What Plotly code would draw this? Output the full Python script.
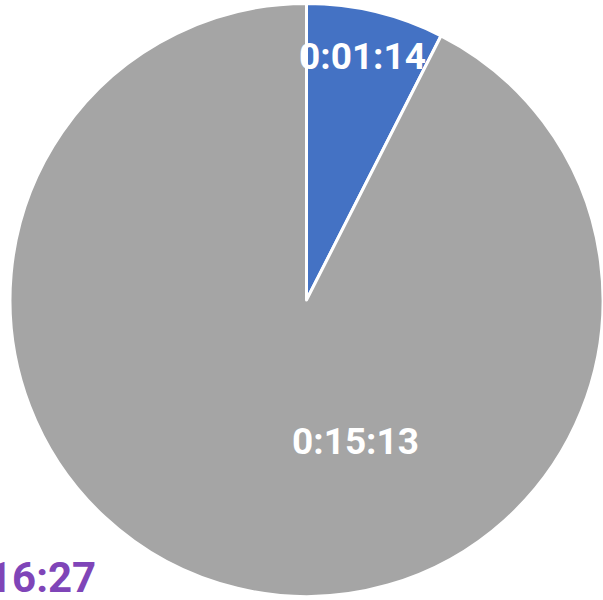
import plotly.graph_objects as go

labels = ["Segment A", "Segment B"]
seconds = [74, 913]
slice_text = ["0:01:14", "0:15:13"]
total_text = "16:27"
colors = ["#4472C4", "#A5A5A5"]

fig = go.Figure()
fig.add_trace(go.Pie(
    labels=labels,
    values=seconds,
    sort=False,
    direction="clockwise",
    rotation=0,
    marker=dict(colors=colors, line=dict(color="white", width=3)),
    textinfo="none",
    hoverinfo="none",
    showlegend=False,
    domain=dict(x=[10/603, 1.0], y=[0.0, 1.0]),
))

fig.add_annotation(x=362/603, y=1-56/600, xref="paper", yref="paper",
                   xanchor="center", yanchor="middle",
                   text=slice_text[0], showarrow=False,
                   font=dict(family="Roboto", size=37, color="white", weight="bold"))
fig.add_annotation(x=355/603, y=1-441/600, xref="paper", yref="paper",
                   xanchor="center", yanchor="middle",
                   text=slice_text[1], showarrow=False,
                   font=dict(family="Roboto", size=37, color="white", weight="bold"))
fig.add_annotation(x=98/603, y=1-577/600, xref="paper", yref="paper",
                   xanchor="right", yanchor="middle",
                   text=total_text, showarrow=False,
                   font=dict(family="Roboto", size=42, color="#7F45B8", weight="bold"))

fig.update_layout(width=603, height=600, margin=dict(l=0, r=0, t=0, b=0),
                  paper_bgcolor="white", plot_bgcolor="white")
fig.write_html("out.html", config={"displayModeBar": False},
               post_script="document.body.style.margin='0';document.body.style.padding='0';")
